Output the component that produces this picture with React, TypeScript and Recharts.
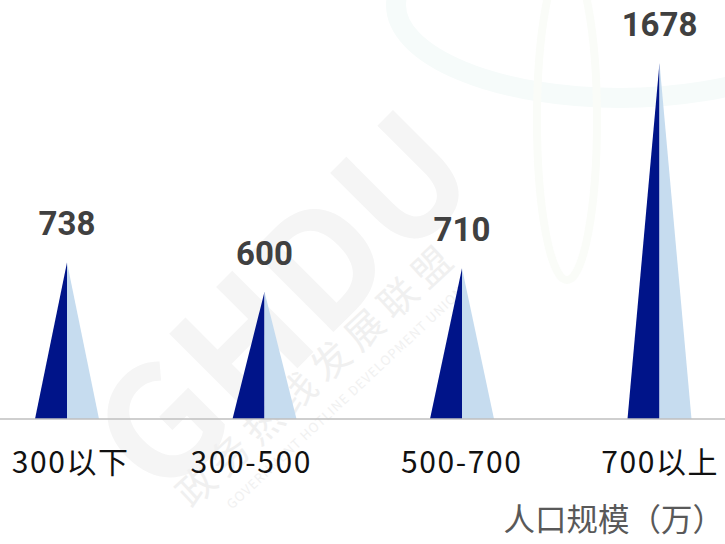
import { BarChart, Bar, XAxis, YAxis, LabelList } from "recharts";

const CATEGORIES = ["300以下", "300-500", "500-700", "700以上"];
const VALUES = [738, 600, 710, 1678];
const AXIS_TITLE = "人口规模（万）";

const DARK = "#001489";
const LIGHT = "#c6dcef";
const FONT = "'Noto Sans CJK SC', 'Noto Sans', sans-serif";
// small horizontal nudges for the category labels
const LABEL_NUDGE = [4, -13, 0, 1];

const data = CATEGORIES.map((name, i) => ({ name, value: VALUES[i] }));

// two-tone spike: dark left half, light right half
function Spike(props: any) {
  const { x, y, width, height } = props;
  if (!height || height <= 0) return null;
  const mid = x + width / 2;
  const base = y + height;
  return (
    <g>
      <polygon points={`${x},${base} ${mid},${y} ${mid},${base}`} fill={DARK} />
      <polygon points={`${mid},${y} ${x + width},${base} ${mid},${base}`} fill={LIGHT} />
    </g>
  );
}

function ValueLabel(props: any) {
  const { x, y, width, value } = props;
  return (
    <text x={x + width / 2} y={y - 27} textAnchor="middle" fontFamily="Roboto, 'Noto Sans', sans-serif"
      fontWeight={700} fontSize={33} fill="#404040">
      {value}
    </text>
  );
}

function CategoryTick(props: any) {
  const { x, y, payload, index } = props;
  return (
    <text x={x + (LABEL_NUDGE[index] ?? 0)} y={y + 54} textAnchor="middle" fontFamily={FONT}
      fontSize={30} letterSpacing={1.6} fill="#111">
      {payload.value}
    </text>
  );
}

function AxisTitle(props: any) {
  const { viewBox } = props;
  return (
    <text x={viewBox.x + viewBox.width - 34} y={viewBox.y + 112} textAnchor="end"
      fontFamily={FONT} fontSize={31.5} fill="#595959">
      {AXIS_TITLE}
    </text>
  );
}

function Watermark() {
  return (
    <svg width={725} height={544} style={{ position: "absolute", left: 0, top: 0 }}>
      <ellipse cx={620} cy={5} rx={224} ry={93} fill="none" stroke="#f6fbfa" strokeWidth={20} />
      <ellipse cx={567} cy={120} rx={30} ry={160} fill="none" stroke="#fafcf8" strokeWidth={8} />
      <text x={275} y={295} textAnchor="middle" dominantBaseline="central" fontFamily={FONT}
        fontWeight={700} fontSize={155} fill="#f5f5f5" transform="rotate(-45 275 295)">
        GHDU
      </text>
      <text x={315} y={372} textAnchor="middle" dominantBaseline="central" fontFamily={FONT}
        fontSize={38} letterSpacing={8} fill="#f0f0f0" transform="rotate(-43 315 372)">
        政务热线发展联盟
      </text>
      <text x={345} y={397} textAnchor="middle" dominantBaseline="central" fontFamily={FONT}
        fontSize={13} letterSpacing={1} fill="#f1f1f1" transform="rotate(-43 345 397)">
        GOVERNMENT HOTLINE DEVELOPMENT UNION
      </text>
    </svg>
  );
}

export default function App() {
  return (
    <div style={{ position: "absolute", left: 0, top: 0, width: 725, height: 544, overflow: "hidden", background: "#fff" }}>
      <Watermark />
      <BarChart width={790} height={544} data={data}
        margin={{ top: 37, right: 0, left: 0, bottom: 0 }}
        style={{ position: "absolute", left: -32, top: 0 }}>
        <YAxis hide domain={[0, 1800]} />
        <XAxis dataKey="name" height={125} tickSize={0} tickMargin={0} tickLine={false}
          axisLine={{ stroke: "#bfbfbf", strokeWidth: 1.5 }} tick={<CategoryTick />}
          label={{ content: <AxisTitle /> }} />
        <Bar dataKey="value" barSize={64} shape={<Spike />} isAnimationActive={false}>
          <LabelList dataKey="value" content={<ValueLabel />} />
        </Bar>
      </BarChart>
    </div>
  );
}
